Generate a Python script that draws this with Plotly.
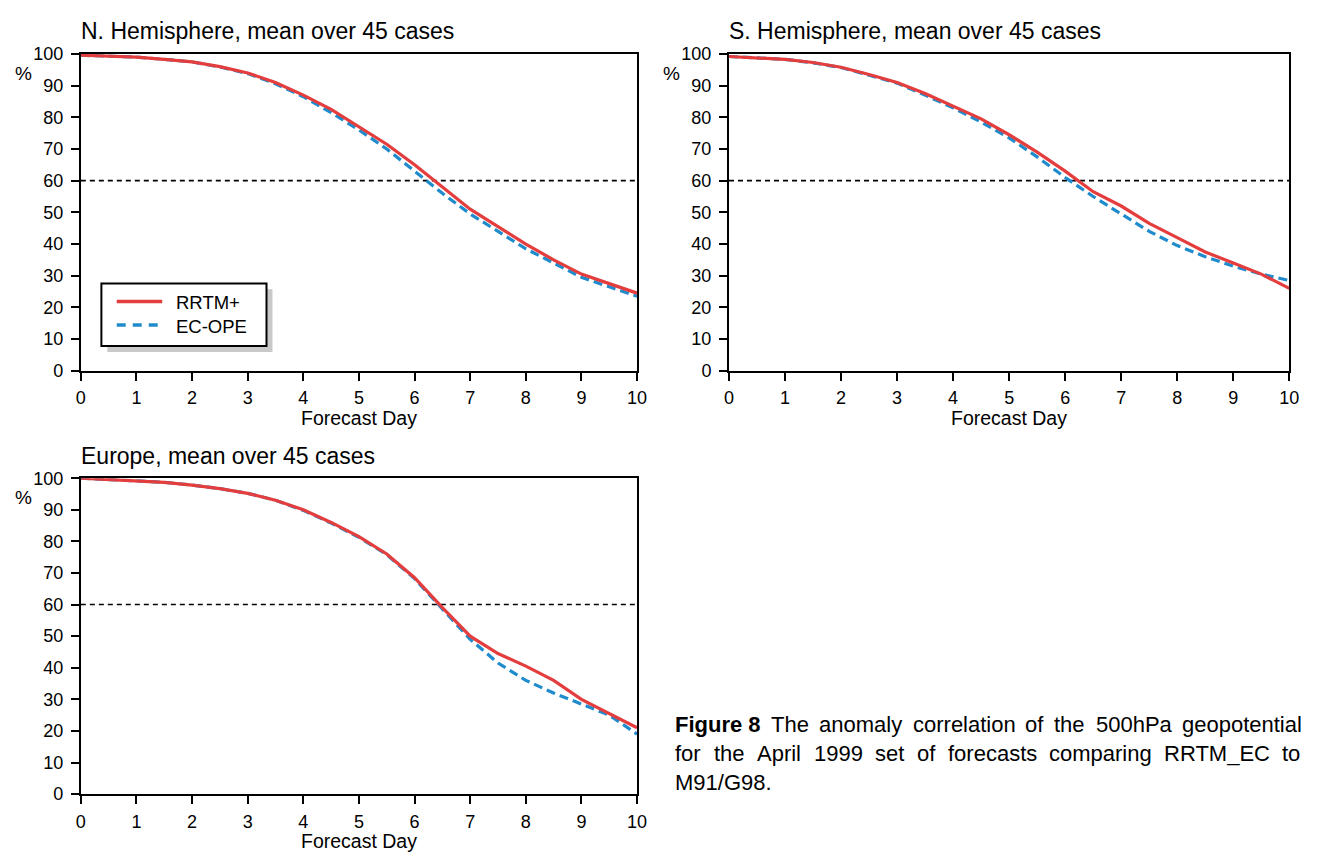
import plotly.graph_objects as go

# ---------------- data ----------------
days = [0, 0.5, 1, 1.5, 2, 2.5, 3, 3.5, 4, 4.5, 5, 5.5, 6, 6.5, 7, 7.5, 8, 8.5, 9, 9.5, 10]

nh_rrtm = [99.6, 99.3, 99.0, 98.3, 97.5, 96.0, 94.0, 91.0, 87.0, 82.5, 77.0, 71.5, 65.0, 58.0, 51.0, 45.5, 40.0, 35.0, 30.5, 27.5, 24.5]
nh_ecope = [99.6, 99.3, 99.0, 98.3, 97.5, 95.9, 93.8, 90.6, 86.5, 81.5, 76.0, 70.0, 63.0, 56.0, 49.5, 44.0, 38.5, 34.0, 29.5, 26.5, 23.5]

sh_rrtm = [99.2, 98.8, 98.3, 97.3, 95.8, 93.5, 91.0, 87.5, 83.5, 79.5, 74.5, 69.0, 63.0, 56.5, 52.0, 46.5, 42.0, 37.5, 34.0, 30.5, 26.0]
sh_ecope = [99.2, 98.8, 98.3, 97.2, 95.7, 93.3, 90.8, 87.0, 83.0, 78.5, 73.5, 67.5, 61.0, 55.0, 49.5, 44.0, 39.5, 36.0, 33.0, 30.5, 28.5]

eu_rrtm = [100.0, 99.6, 99.2, 98.7, 97.8, 96.7, 95.2, 93.0, 90.0, 86.0, 81.5, 76.0, 68.5, 59.0, 50.0, 44.5, 40.5, 36.0, 30.0, 25.5, 21.0]
eu_ecope = [100.0, 99.6, 99.2, 98.7, 97.8, 96.7, 95.2, 93.0, 89.8, 85.8, 81.3, 75.8, 68.2, 58.5, 49.0, 41.5, 36.0, 32.0, 28.5, 25.0, 19.0]

panel_titles = ["N. Hemisphere, mean over 45 cases",
                "S. Hemisphere, mean over 45 cases",
                "Europe, mean over 45 cases"]
series_names = ["RRTM+", "EC-OPE"]
threshold = 60
x_ticks = list(range(0, 11))
y_ticks = list(range(0, 101, 10))

caption_lines = [
    ["<b>Figure 8</b>", "The", "anomaly", "correlation", "of", "the", "500hPa", "geopotential"],
    ["for", "the", "April", "1999", "set", "of", "forecasts", "comparing", "RRTM_EC", "to"],
    ["M91/G98."],
]

# ---------------- style / layout ----------------
W, H = 1324, 863
FONT = "Liberation Sans, Arial, sans-serif"
RED = "#e43d3d"
BLUE = "#1f8bcc"

def px(x):
    return x / W

def py(y):
    return 1 - y / H

panels = [
    dict(xd=[76.7, 639.3], yd=[45, 369.3]),
    dict(xd=[732.3, 1299.0], yd=[45, 369.3]),
    dict(xd=[76.7, 639.3], yd=[479.3, 802.7]),
]
data = [(nh_rrtm, nh_ecope), (sh_rrtm, sh_ecope), (eu_rrtm, eu_ecope)]

fig = go.Figure()
layout = dict(
    width=W, height=H,
    margin=dict(l=0, r=0, t=0, b=0),
    paper_bgcolor="white", plot_bgcolor="white",
    showlegend=False,
    font=dict(family=FONT, color="black"),
)
annotations = []
shapes = []

for i, (p, (r, b)) in enumerate(zip(panels, data)):
    n = "" if i == 0 else str(i + 1)
    xa, ya = "x" + n, "y" + n
    fig.add_trace(go.Scatter(x=days, y=b, mode="lines", name=series_names[1],
                             line=dict(color=BLUE, width=3.2, dash="9px,5px"),
                             xaxis=xa, yaxis=ya, showlegend=(i == 0)))
    fig.add_trace(go.Scatter(x=days, y=r, mode="lines", name=series_names[0],
                             line=dict(color=RED, width=3.2),
                             xaxis=xa, yaxis=ya, showlegend=(i == 0)))
    axis_common = dict(showline=True, linecolor="black", linewidth=2, mirror=True,
                       ticks="outside", ticklen=8, tickwidth=2, tickcolor="black",
                       showgrid=False, zeroline=False,
                       tickfont=dict(family=FONT, size=18, color="black"))
    layout["xaxis" + n] = dict(domain=[px(p["xd"][0]), px(p["xd"][1])], range=[0, 10],
                               tickvals=x_ticks, anchor=ya, ticklabelstandoff=2, **axis_common)
    layout["yaxis" + n] = dict(domain=[py(p["yd"][1]), py(p["yd"][0])], range=[0, 100],
                               tickvals=y_ticks, anchor=xa, ticklabelstandoff=4, **axis_common)
    # 60% threshold line
    shapes.append(dict(type="line", xref=xa, yref=ya, x0=0, x1=10, y0=threshold, y1=threshold,
                       line=dict(color="black", width=1.6, dash="5px,4px"), layer="below"))
    # panel title
    annotations.append(dict(text=panel_titles[i], x=px(p["xd"][0] - 2), y=py(p["yd"][0] - 23),
                            xref="paper", yref="paper", xanchor="left", yanchor="middle",
                            showarrow=False, font=dict(size=23, family=FONT, color="black")))
    # "%" label
    annotations.append(dict(text="%", x=px(p["xd"][0] - 58), y=py(p["yd"][0] + 20),
                            xref="paper", yref="paper", xanchor="center", yanchor="middle",
                            showarrow=False, font=dict(size=19, family=FONT, color="black")))
    # x-axis title
    annotations.append(dict(text="Forecast Day", x=px((p["xd"][0] + p["xd"][1]) / 2),
                            y=py(p["yd"][1] + 48),
                            xref="paper", yref="paper", xanchor="center", yanchor="middle",
                            showarrow=False, font=dict(size=19.5, family=FONT, color="black")))

# ---------------- legend (drawn box with shadow) ----------------
shapes.append(dict(type="rect", xref="paper", yref="paper",
                   x0=px(103.5), x1=px(270.5), y0=py(350), y1=py(286),
                   fillcolor="#c9c9c9", line=dict(width=0), layer="above"))
shapes.append(dict(type="rect", xref="paper", yref="paper",
                   x0=px(97.5), x1=px(264.5), y0=py(344), y1=py(280),
                   fillcolor="white", line=dict(color="black", width=2), layer="above"))
shapes.append(dict(type="line", xref="paper", yref="paper",
                   x0=px(113), x1=px(159), y0=py(298.5), y1=py(298.5),
                   line=dict(color=RED, width=3.5), layer="above"))
shapes.append(dict(type="line", xref="paper", yref="paper",
                   x0=px(113), x1=px(155), y0=py(322.5), y1=py(322.5),
                   line=dict(color=BLUE, width=3.5, dash="9px,7px"), layer="above"))
for name, yy in zip(series_names, [299.5, 323.5]):
    annotations.append(dict(text=name, x=px(171), y=py(yy), xref="paper", yref="paper",
                            xanchor="left", yanchor="middle", showarrow=False,
                            font=dict(size=18.5, family=FONT, color="black")))

# ---------------- caption (justified by word) ----------------
REG = {' ': 278, 'A': 667, 'C': 722, 'E': 667, 'G': 778, 'M': 833, 'P': 667, 'R': 722,
       'T': 611, '_': 556, '.': 278, '/': 278, 'a': 556, 'b': 556, 'c': 500, 'd': 556,
       'e': 556, 'f': 278, 'g': 556, 'h': 556, 'i': 222, 'j': 222, 'k': 500, 'l': 222,
       'm': 833, 'n': 556, 'o': 556, 'p': 556, 'q': 556, 'r': 333, 's': 500, 't': 278,
       'u': 556, 'v': 500, 'w': 722, 'x': 500, 'y': 500, 'z': 500}
BOLD = {' ': 278, 'F': 611, 'i': 278, 'g': 611, 'u': 611, 'r': 389, 'e': 556}
CAP_SIZE = 22
CAP_X0, CAP_X1 = 676, 1308
cap_y = [731, 761, 791]

def word_width(w):
    if w.startswith("<b>"):
        t = w[3:-4]
        return sum(BOLD.get(c, 556) for c in t) * CAP_SIZE / 1000
    return sum(REG.get(c, 556) for c in w) * CAP_SIZE / 1000

for li, words in enumerate(caption_lines):
    widths = [word_width(w) for w in words]
    if len(words) > 1 and li < len(caption_lines) - 1:
        gap = (CAP_X1 - CAP_X0 - sum(widths)) / (len(words) - 1)
    else:
        gap = 278 * CAP_SIZE / 1000
    xcur = CAP_X0
    for w, ww in zip(words, widths):
        annotations.append(dict(text=w, x=px(xcur), y=py(cap_y[li]), xref="paper", yref="paper",
                                xanchor="left", yanchor="middle", showarrow=False,
                                font=dict(size=CAP_SIZE, family=FONT, color="black")))
        xcur += ww + gap

layout["annotations"] = annotations
layout["shapes"] = shapes
fig.update_layout(**layout)
fig.write_html("out.html", config={"displayModeBar": False},
               post_script="document.body.style.margin='0px';document.body.style.overflow='hidden';")
